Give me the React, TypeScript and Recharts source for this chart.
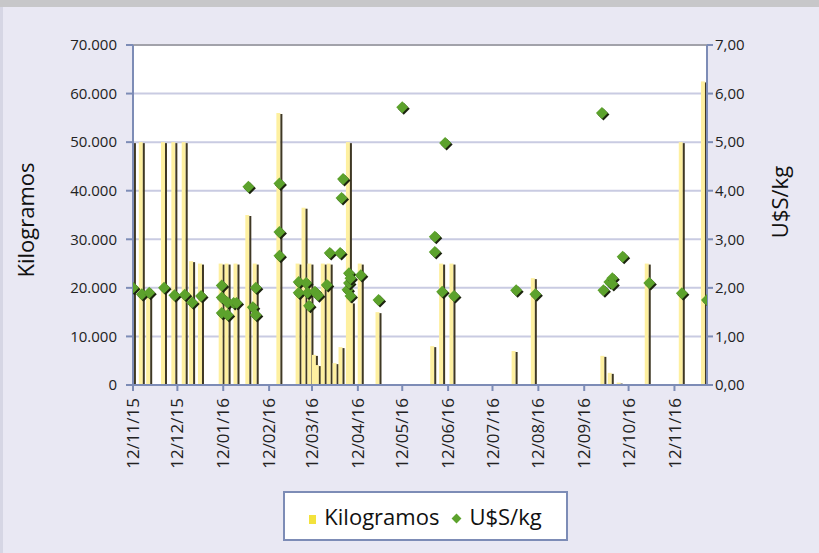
import { Bar, CartesianGrid, ComposedChart, Legend, ReferenceLine, Scatter, XAxis, YAxis } from "recharts";

// dd/mm/yy
const tickLabels = [
  "12/11/15", "12/12/15", "12/01/16", "12/02/16", "12/03/16", "12/04/16", "12/05/16",
  "12/06/16", "12/07/16", "12/08/16", "12/09/16", "12/10/16", "12/11/16",
];

const kgDates = [
  "12/11/15", "18/11/15", "23/11/15", "03/12/15", "10/12/15", "17/12/15", "22/12/15", "28/12/15",
  "11/01/16", "15/01/16", "21/01/16", "29/01/16", "03/02/16", "19/02/16", "03/03/16", "07/03/16",
  "11/03/16", "14/03/16", "16/03/16", "20/03/16", "24/03/16", "28/03/16", "01/04/16", "06/04/16",
  "08/04/16", "14/04/16", "26/04/16", "02/06/16", "08/06/16", "15/06/16", "27/07/16", "09/08/16",
  "25/09/16", "30/09/16", "06/10/16", "25/10/16", "17/11/16", "02/12/16",
];
const kgValues = [
  50000, 50000, 19000, 50000, 50000, 50000, 25500, 25000,
  25000, 25000, 25000, 35000, 25000, 56000, 25000, 36500,
  25000, 6200, 4100, 25000, 25000, 4500, 7800, 50000,
  17000, 25000, 15000, 8000, 25000, 25000, 7000, 22000,
  6000, 2500, 500, 25000, 50000, 62500,
];

const priceDates = [
  "12/11/15", "18/11/15", "23/11/15", "03/12/15", "10/12/15", "17/12/15", "22/12/15", "28/12/15",
  "11/01/16", "11/01/16", "11/01/16", "15/01/16", "15/01/16", "19/01/16", "21/01/16", "29/01/16",
  "01/02/16", "03/02/16", "03/02/16", "19/02/16", "19/02/16", "19/02/16", "03/03/16", "03/03/16",
  "08/03/16", "09/03/16", "10/03/16", "14/03/16", "16/03/16", "22/03/16", "24/03/16", "31/03/16",
  "01/04/16", "02/04/16", "05/04/16", "06/04/16", "06/04/16", "07/04/16", "07/04/16", "14/04/16",
  "26/04/16", "12/05/16", "03/06/16", "03/06/16", "08/06/16", "10/06/16", "16/06/16", "28/07/16",
  "10/08/16", "24/09/16", "25/09/16", "29/09/16", "01/10/16", "01/10/16", "08/10/16", "26/10/16",
  "17/11/16", "04/12/16",
];
const priceValues = [
  2.0, 1.87, 1.9, 2.0, 1.85, 1.86, 1.7, 1.83,
  2.05, 1.8, 1.48, 1.7, 1.44, 1.69, 1.69, 4.08,
  1.6, 1.44, 2.0, 4.15, 3.15, 2.66, 2.12, 1.9,
  2.1, 1.9, 1.63, 1.92, 1.85, 2.06, 2.72, 2.72,
  3.85, 4.24, 1.96, 2.3, 2.1, 2.2, 1.83, 2.26,
  1.75, 5.72, 3.05, 2.74, 1.92, 4.98, 1.83, 1.95,
  1.87, 5.6, 1.95, 2.12, 2.2, 2.08, 2.64, 2.1,
  1.89, 1.75,
];

const leftTicks = [0, 10000, 20000, 30000, 40000, 50000, 60000, 70000];
const rightTicks = [0, 1, 2, 3, 4, 5, 6, 7];

const START = Date.UTC(2015, 10, 12);
const toDay = (s: string) => {
  const [d, m, y] = s.split("/").map(Number);
  return Math.round((Date.UTC(2000 + y, m - 1, d) - START) / 86400000);
};

const kgData = kgDates.map((d, i) => ({ day: toDay(d), kg: kgValues[i] }));
const priceData = priceDates.map((d, i) => ({ day: toDay(d), usd: priceValues[i] }));
const xTicks = tickLabels.map(toDay);

const FONT = "'Open Sans', 'DejaVu Sans', sans-serif";
const AXIS = "#7d8cb6";
const YELLOW = "#fef0a0";
const SHADOW = "#3f3824";
const GREEN = "#5ca22c";

// bar = light yellow column with a dark shadow strip on its right side
const BarShape = (props: any) => {
  const { x, y, width, height } = props;
  if (!height || height <= 0) return null;
  const cx = x + width / 2;
  return (
    <g>
      <rect x={cx - 3} y={y} width={4} height={height} fill={YELLOW} />
      <rect x={cx + 1} y={y + 1} width={2} height={height - 1} fill={SHADOW} />
    </g>
  );
};

const Diamond = (props: any) => {
  const { cx, cy } = props;
  const r = 6;
  const pts = (ox: number, oy: number) =>
    `${cx + ox},${cy - r + oy} ${cx + r + ox},${cy + oy} ${cx + ox},${cy + r + oy} ${cx - r + ox},${cy + oy}`;
  return (
    <g>
      <polygon points={pts(1.5, 1.5)} fill="#1c240f" />
      <polygon points={pts(0, 0)} fill={GREEN} />
    </g>
  );
};

const XTick = (props: any) => {
  const { x, payload } = props;
  const ty = 398;
  const idx = xTicks.indexOf(payload.value);
  return (
    <text
      x={x}
      y={ty}
      dy="0.36em"
      transform={`rotate(-90 ${x} ${ty})`}
      textAnchor="end"
      fontSize={17}
      fontFamily={FONT}
      fill="#222"
    >
      {tickLabels[idx]}
    </text>
  );
};

const LegendBox = () => (
  <div
    style={{
      boxSizing: "border-box",
      width: 285,
      height: 50,
      border: `2px solid ${AXIS}`,
      background: "#fff",
      display: "flex",
      alignItems: "center",
      justifyContent: "center",
      fontFamily: FONT,
      fontSize: 22,
      color: "#111",
    }}
  >
    <span style={{ display: "inline-block", width: 7, height: 9, background: "#f3e23c", marginRight: 8, marginTop: 6 }} />
    <span>Kilogramos</span>
    <span style={{ display: "inline-block", width: 7, height: 7, background: GREEN, transform: "rotate(45deg)", margin: "4px 9px 0 14px" }} />
    <span>U$S/kg</span>
  </div>
);

export default function App() {
  return (
    <div style={{ position: "fixed", left: 0, top: 0, width: 819, height: 553, background: "#e9e8f3", overflow: "hidden" }}>
      <ComposedChart
        width={819}
        height={553}
        data={kgData}
        margin={{ top: 45, right: 0, bottom: 0, left: 0 }}
      >
        <CartesianGrid horizontal vertical={false} stroke="#c9cbe2" strokeWidth={2} fill="#fff" yAxisId="left" />
        <XAxis
          dataKey="day"
          type="number"
          domain={[0, 388]}
          ticks={xTicks}
          interval={0}
          height={168}
          tick={<XTick />}
          stroke={AXIS}
          strokeWidth={2}
          tickSize={6}
          allowDataOverflow
        />
        <YAxis
          yAxisId="left"
          orientation="left"
          width={133}
          domain={[0, 70000]}
          ticks={leftTicks}
          interval={0}
          stroke={AXIS}
          strokeWidth={2}
          tickSize={7}
          tickMargin={9}
          tick={{ fill: "#222", fontSize: 15, fontFamily: FONT }}
          tickFormatter={(v: number) => (v === 0 ? "0" : v.toLocaleString("de-DE"))}
          label={{
            content: () => (
              <text x={26} y={220} transform="rotate(-90 26 220)" textAnchor="middle" dy="0.36em" fontSize={22} fontFamily={FONT} fill="#111">
                Kilogramos
              </text>
            ),
          }}
        />
        <YAxis
          yAxisId="right"
          orientation="right"
          width={112}
          domain={[0, 7]}
          ticks={rightTicks}
          interval={0}
          stroke={AXIS}
          strokeWidth={2}
          tickSize={6}
          tickMargin={2}
          tick={{ fill: "#222", fontSize: 15, fontFamily: FONT }}
          tickFormatter={(v: number) => v.toFixed(2).replace(".", ",")}
          label={{
            content: () => (
              <text x={780} y={202} transform="rotate(-90 780 202)" textAnchor="middle" dy="0.36em" fontSize={22} fontFamily={FONT} fill="#111">
                U$S/kg
              </text>
            ),
          }}
        />
        <ReferenceLine yAxisId="left" y={70000} stroke="#a2a2aa" strokeWidth={2} />
        <Bar yAxisId="left" dataKey="kg" name="Kilogramos" barSize={6} shape={<BarShape />} isAnimationActive={false} />
        <Scatter yAxisId="right" data={priceData} dataKey="usd" name="U$S/kg" shape={<Diamond />} isAnimationActive={false} />
        <Legend
          layout="horizontal"
          verticalAlign="middle"
          align="center"
          content={<LegendBox />}
          wrapperStyle={{ position: "absolute", left: 283, top: 491, width: 285, height: 50 }}
        />
      </ComposedChart>
      <div style={{ position: "absolute", left: 0, top: 0, width: 819, height: 7, background: "#c7c7c9" }} />
      <div style={{ position: "absolute", left: 0, top: 7, width: 3, height: 546, background: "#d6d6e4" }} />
    </div>
  );
}
